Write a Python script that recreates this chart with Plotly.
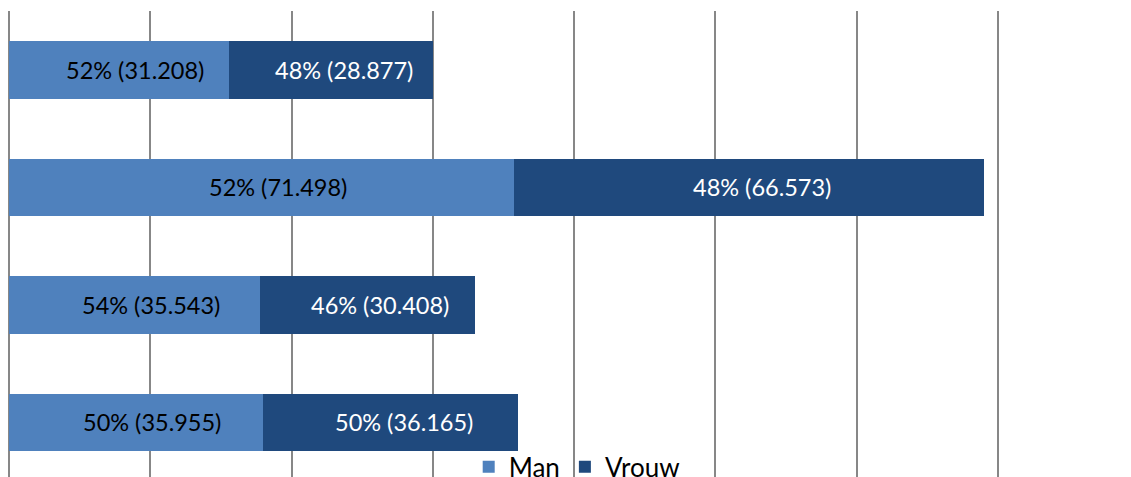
import plotly.graph_objects as go

rows = [0, 1, 2, 3]
man = [31208, 71498, 35543, 35955]
vrouw = [28877, 66573, 30408, 36165]
man_pct = ["52%", "52%", "54%", "50%"]
vrouw_pct = ["48%", "48%", "46%", "50%"]


def fmt(v):
    return f"{v:,}".replace(",", ".")


MAN_COLOR = "#4F81BD"
VROUW_COLOR = "#1F497D"
FONT = "Lato"

fig = go.Figure()
fig.add_trace(go.Bar(y=rows, x=man, orientation="h", name="Man",
                     marker=dict(color=MAN_COLOR, line=dict(width=0)),
                     width=0.49))
fig.add_trace(go.Bar(y=rows, x=vrouw, orientation="h", name="Vrouw",
                     marker=dict(color=VROUW_COLOR, line=dict(width=0)),
                     width=0.49))

# labels, a bit right of the segment centre like the original
for i in range(len(rows)):
    fig.add_annotation(x=man[i] / 2, y=rows[i], text=f"{man_pct[i]} ({fmt(man[i])})",
                       showarrow=False, xshift=16,
                       font=dict(color="black", size=23.5, family=FONT))
    fig.add_annotation(x=man[i] + vrouw[i] / 2, y=rows[i],
                       text=f"{vrouw_pct[i]} ({fmt(vrouw[i])})",
                       showarrow=False, xshift=13,
                       font=dict(color="white", size=23.5, family=FONT))

fig.update_layout(
    barmode="stack",
    width=1131, height=477,
    margin=dict(l=9, r=119, t=11, b=0, autoexpand=False),
    plot_bgcolor="white", paper_bgcolor="white",
    font=dict(family=FONT, size=23, color="black"),
    showlegend=True,
    legend=dict(orientation="h", x=0.566, xanchor="center", y=0.072, yanchor="top",
                bgcolor="rgba(0,0,0,0)", font=dict(size=26), traceorder="normal",
                itemwidth=30),
    xaxis=dict(range=[0, 142000], tickvals=[0, 20000, 40000, 60000, 80000, 100000, 120000, 140000],
               showticklabels=False,
               showgrid=True, gridcolor="#878787", gridwidth=1.5,
               zeroline=True, zerolinecolor="#878787", zerolinewidth=1.5,
               showline=False, ticks=""),
    yaxis=dict(range=[3.464, -0.5], showticklabels=False, showgrid=False,
               zeroline=False, showline=False, ticks=""),
)

fig.write_html("out.html", config={"displayModeBar": False},
               post_script="document.body.style.margin='0';")
